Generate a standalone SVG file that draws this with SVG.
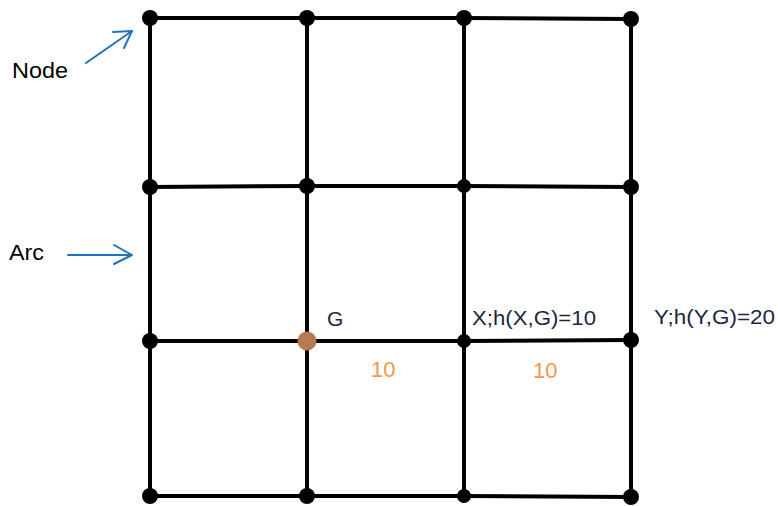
<svg xmlns="http://www.w3.org/2000/svg" width="778" height="506" viewBox="0 0 778 506">
<style>
.e{stroke:#000;stroke-width:4;fill:none;stroke-linecap:round}
.n{fill:#000}
.t{font-family:"Liberation Sans",Arial,sans-serif;font-size:21px;fill:#1c2640}
.l{font-family:"Liberation Sans",Arial,sans-serif;font-size:22px;fill:#000}
.o{font-family:"Liberation Sans",Arial,sans-serif;font-size:22px;fill:#f79646}
.a{stroke:#1e73be;stroke-width:2;fill:none;stroke-linecap:round;stroke-linejoin:round}
</style>
<rect width="778" height="506" fill="#fff"/>
<g id="connectors">
<path class="e" d="M150,18 L307,18 L464,18 L631,19"/>
<path class="e" d="M150,187 L307,186 L464,186 L631,187"/>
<path class="e" d="M150,341 L307,341 L464,341 L631,340"/>
<path class="e" d="M150,496 L307,496 L464,496 L631,497"/>
<path class="e" d="M150,18 L150,496"/>
<path class="e" d="M307,18 L307,496"/>
<path class="e" d="M464,18 L464,496"/>
<path class="e" d="M631,19 L631,497"/>
</g>
<g id="node-r0c0"><circle class="n" cx="150" cy="18" r="8"/></g>
<g id="node-r0c1"><circle class="n" cx="307" cy="18" r="8"/></g>
<g id="node-r0c2"><circle class="n" cx="464" cy="18" r="8"/></g>
<g id="node-r0c3"><circle class="n" cx="631" cy="19" r="8"/></g>
<g id="node-r1c0"><circle class="n" cx="150" cy="187" r="8"/></g>
<g id="node-r1c1"><circle class="n" cx="307" cy="186" r="8"/></g>
<g id="node-r1c2"><circle class="n" cx="464" cy="186" r="7"/></g>
<g id="node-r1c3"><circle class="n" cx="631" cy="187" r="8"/></g>
<g id="node-r2c0"><circle class="n" cx="150" cy="341" r="8"/></g>
<g id="node-G"><circle cx="307" cy="341" r="9.5" fill="#b87a52"/><text class="t" x="327" y="326">G</text></g>
<g id="node-X"><circle class="n" cx="464" cy="341" r="7"/><text class="t" x="472" y="325" textLength="124" lengthAdjust="spacingAndGlyphs">X;h(X,G)=10</text></g>
<g id="node-Y"><circle class="n" cx="631" cy="340" r="8"/><text class="t" x="654" y="324" textLength="121" lengthAdjust="spacingAndGlyphs">Y;h(Y,G)=20</text></g>
<g id="node-r3c0"><circle class="n" cx="150" cy="496" r="8"/></g>
<g id="node-r3c1"><circle class="n" cx="307" cy="496" r="8"/></g>
<g id="node-r3c2"><circle class="n" cx="464" cy="496" r="7"/></g>
<g id="node-r3c3"><circle class="n" cx="631" cy="497" r="8"/></g>
<g id="cost-labels">
<text class="o" x="371" y="377">10</text>
<text class="o" x="533" y="378">10</text>
</g>
<g id="legend-node">
<text class="l" x="12" y="78" textLength="56" lengthAdjust="spacingAndGlyphs">Node</text>
<path class="a" d="M86,63 L132,31 M113,32 L132,31 L124,48"/>
</g>
<g id="legend-arc">
<text class="l" x="9" y="260" textLength="35" lengthAdjust="spacingAndGlyphs">Arc</text>
<path class="a" d="M68,255 L132,255 M114,245 L132,255 L114,264"/>
</g>
</svg>
